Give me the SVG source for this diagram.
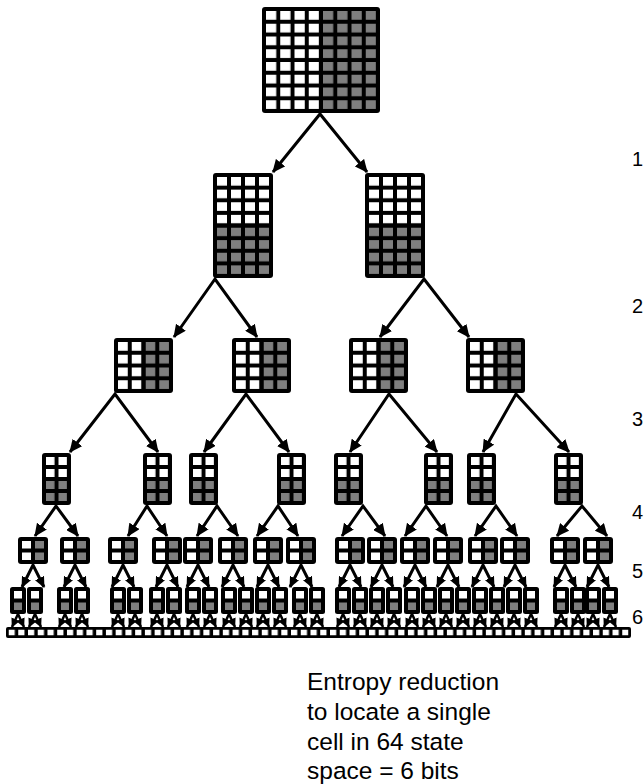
<svg xmlns="http://www.w3.org/2000/svg" width="644" height="784" viewBox="0 0 644 784">
<style>
.c{fill:none;stroke:#000;stroke-width:3;marker-start:url(#a1);marker-end:url(#a1)}
.c2{fill:none;stroke:#000;stroke-width:3;marker-start:url(#a2);marker-end:url(#a2)}
.c3{fill:none;stroke:#000;stroke-width:2.5;marker-start:url(#a3);marker-end:url(#a3)}
.w{fill:#fff}
.g{fill:#7f7f7f}
.lab{font-family:"Liberation Sans",Arial,sans-serif;font-size:20px;fill:#000}
.t{font-family:"Liberation Sans",Arial,sans-serif;font-size:24.5px;fill:#000}
</style>
<defs>
<marker id="a1" viewBox="0 0 13 12" refX="12" refY="6" markerWidth="13" markerHeight="12" markerUnits="userSpaceOnUse" orient="auto-start-reverse"><path d="M0,0 L13,6 L0,12 z"/></marker>
<marker id="a2" viewBox="0 0 11 10" refX="10" refY="5" markerWidth="11" markerHeight="10" markerUnits="userSpaceOnUse" orient="auto-start-reverse"><path d="M0,0 L11,5 L0,10 z"/></marker>
<marker id="a3" viewBox="0 0 9 9" refX="8.5" refY="4.5" markerWidth="9" markerHeight="9" markerUnits="userSpaceOnUse" orient="auto-start-reverse"><path d="M0,0 L9,4.5 L0,9 z"/></marker>
<pattern id="p0w" patternUnits="userSpaceOnUse" x="4" y="4" width="14.25" height="12.75"><rect width="10.25" height="8.75" class="w"/></pattern>
<pattern id="p0g" patternUnits="userSpaceOnUse" x="4" y="4" width="14.25" height="12.75"><rect width="10.25" height="8.75" class="g"/></pattern>
<pattern id="p1w" patternUnits="userSpaceOnUse" x="4" y="4" width="14" height="12.625"><rect width="10" height="8.625" class="w"/></pattern>
<pattern id="p1g" patternUnits="userSpaceOnUse" x="4" y="4" width="14" height="12.625"><rect width="10" height="8.625" class="g"/></pattern>
<pattern id="p2w" patternUnits="userSpaceOnUse" x="4" y="4" width="13.75" height="12.75"><rect width="9.75" height="8.75" class="w"/></pattern>
<pattern id="p2g" patternUnits="userSpaceOnUse" x="4" y="4" width="13.75" height="12.75"><rect width="9.75" height="8.75" class="g"/></pattern>
<pattern id="p3w" patternUnits="userSpaceOnUse" x="4" y="4" width="12.5" height="12"><rect width="8.5" height="8" class="w"/></pattern>
<pattern id="p3g" patternUnits="userSpaceOnUse" x="4" y="4" width="12.5" height="12"><rect width="8.5" height="8" class="g"/></pattern>
<pattern id="pb" patternUnits="userSpaceOnUse" x="8.5" y="629.5" width="9.742" height="11"><rect width="6.24" height="6" class="w"/></pattern>
<g id="t0"><rect width="118" height="106" rx="3"/><rect x="4" y="4" width="53" height="98" fill="url(#p0w)"/><rect x="61" y="4" width="53" height="98" fill="url(#p0g)"/></g>
<g id="t1"><rect width="60" height="105" rx="3"/><rect x="4" y="4" width="52" height="46.5" fill="url(#p1w)"/><rect x="4" y="54.5" width="52" height="46.5" fill="url(#p1g)"/></g>
<g id="t2"><rect width="59" height="55" rx="3"/><rect x="4" y="4" width="23.5" height="47" fill="url(#p2w)"/><rect x="31.5" y="4" width="23.5" height="47" fill="url(#p2g)"/></g>
<g id="t3"><rect width="29" height="52" rx="3"/><rect x="4" y="4" width="21" height="20" fill="url(#p3w)"/><rect x="4" y="28" width="21" height="20" fill="url(#p3g)"/></g>
<g id="t4"><rect width="30" height="27" rx="3"/><rect x="4" y="4" width="9" height="7.5" class="w"/><rect x="4" y="15.5" width="9" height="7.5" class="w"/><rect x="17" y="4" width="9" height="7.5" class="g"/><rect x="17" y="15.5" width="9" height="7.5" class="g"/></g>
<g id="t5"><rect width="16" height="27" rx="2.5"/><rect x="4" y="4" width="8" height="7.5" class="w"/><rect x="4" y="15.5" width="8" height="7.5" class="g"/></g>
</defs>
<rect width="644" height="784" fill="#fff"/>
<g id="connectors">
<path class="c" d="M273,172 L320,114 L367,172"/>
<path class="c" d="M174,337 L215,279 L257,337"/>
<path class="c" d="M380,337 L424,279 L469,337"/>
<path class="c" d="M70,452 L115,394 L158,452"/>
<path class="c" d="M204,452 L246,394 L289,452"/>
<path class="c" d="M350,452 L389,394 L437,452"/>
<path class="c" d="M483,452 L516,394 L569,452"/>
<path class="c" d="M35,536 L56,506 L78,536"/>
<path class="c" d="M128,536 L147,506 L167,536"/>
<path class="c" d="M197,536 L217,506 L238,536"/>
<path class="c" d="M257,536 L278,506 L298,536"/>
<path class="c" d="M342,536 L363,506 L385,536"/>
<path class="c" d="M405,536 L426,506 L447,536"/>
<path class="c" d="M475,536 L496,506 L517,536"/>
<path class="c" d="M557,536 L582,506 L607,536"/>
<path class="c2" d="M22,587 L33,565 L44,587"/>
<path class="c2" d="M64,587 L75,565 L86,587"/>
<path class="c2" d="M112,587 L123,565 L134,587"/>
<path class="c2" d="M156,587 L167,565 L178,587"/>
<path class="c2" d="M187,587 L198,565 L209,587"/>
<path class="c2" d="M222,587 L233,565 L244,587"/>
<path class="c2" d="M257,587 L268,565 L279,587"/>
<path class="c2" d="M290,587 L301,565 L312,587"/>
<path class="c2" d="M339,587 L350,565 L361,587"/>
<path class="c2" d="M371,587 L382,565 L393,587"/>
<path class="c2" d="M404,587 L415,565 L426,587"/>
<path class="c2" d="M437,587 L448,565 L459,587"/>
<path class="c2" d="M472,587 L483,565 L494,587"/>
<path class="c2" d="M504,587 L515,565 L526,587"/>
<path class="c2" d="M554,587 L565,565 L576,587"/>
<path class="c2" d="M587,587 L598,565 L609,587"/>
<path class="c3" d="M12,627 L18,614 L24,627"/>
<path class="c3" d="M29,627 L35,614 L41,627"/>
<path class="c3" d="M59,627 L65,614 L71,627"/>
<path class="c3" d="M76,627 L82,614 L88,627"/>
<path class="c3" d="M112,627 L118,614 L124,627"/>
<path class="c3" d="M129,627 L135,614 L141,627"/>
<path class="c3" d="M151,627 L157,614 L163,627"/>
<path class="c3" d="M168,627 L174,614 L180,627"/>
<path class="c3" d="M187,627 L193,614 L199,627"/>
<path class="c3" d="M204,627 L210,614 L216,627"/>
<path class="c3" d="M223,627 L229,614 L235,627"/>
<path class="c3" d="M240,627 L246,614 L252,627"/>
<path class="c3" d="M257,627 L263,614 L269,627"/>
<path class="c3" d="M274,627 L280,614 L286,627"/>
<path class="c3" d="M294,627 L300,614 L306,627"/>
<path class="c3" d="M311,627 L317,614 L323,627"/>
<path class="c3" d="M337,627 L343,614 L349,627"/>
<path class="c3" d="M354,627 L360,614 L366,627"/>
<path class="c3" d="M371,627 L377,614 L383,627"/>
<path class="c3" d="M388,627 L394,614 L400,627"/>
<path class="c3" d="M406,627 L412,614 L418,627"/>
<path class="c3" d="M423,627 L429,614 L435,627"/>
<path class="c3" d="M440,627 L446,614 L452,627"/>
<path class="c3" d="M457,627 L463,614 L469,627"/>
<path class="c3" d="M474,627 L480,614 L486,627"/>
<path class="c3" d="M491,627 L497,614 L503,627"/>
<path class="c3" d="M508,627 L514,614 L520,627"/>
<path class="c3" d="M525,627 L531,614 L537,627"/>
<path class="c3" d="M555,627 L561,614 L567,627"/>
<path class="c3" d="M572,627 L578,614 L584,627"/>
<path class="c3" d="M587,627 L593,614 L599,627"/>
<path class="c3" d="M604,627 L610,614 L616,627"/>
</g>
<g id="n0"><use href="#t0" x="262" y="7"/></g>
<g id="n1a"><use href="#t1" x="213" y="173"/></g>
<g id="n1b"><use href="#t1" x="365" y="173"/></g>
<g id="n2a"><use href="#t2" x="114" y="338"/></g>
<g id="n2b"><use href="#t2" x="232" y="338"/></g>
<g id="n2c"><use href="#t2" x="349" y="338"/></g>
<g id="n2d"><use href="#t2" x="466" y="338"/></g>
<g id="n3a"><use href="#t3" x="42" y="453"/></g>
<g id="n3b"><use href="#t3" x="143" y="453"/></g>
<g id="n3c"><use href="#t3" x="189" y="453"/></g>
<g id="n3d"><use href="#t3" x="277" y="453"/></g>
<g id="n3e"><use href="#t3" x="334" y="453"/></g>
<g id="n3f"><use href="#t3" x="424" y="453"/></g>
<g id="n3g"><use href="#t3" x="467" y="453"/></g>
<g id="n3h"><use href="#t3" x="554" y="453"/></g>
<g id="n4-1"><use href="#t4" x="18" y="537"/></g>
<g id="n4-2"><use href="#t4" x="60" y="537"/></g>
<g id="n4-3"><use href="#t4" x="108" y="537"/></g>
<g id="n4-4"><use href="#t4" x="152" y="537"/></g>
<g id="n4-5"><use href="#t4" x="183" y="537"/></g>
<g id="n4-6"><use href="#t4" x="218" y="537"/></g>
<g id="n4-7"><use href="#t4" x="253" y="537"/></g>
<g id="n4-8"><use href="#t4" x="286" y="537"/></g>
<g id="n4-9"><use href="#t4" x="335" y="537"/></g>
<g id="n4-10"><use href="#t4" x="367" y="537"/></g>
<g id="n4-11"><use href="#t4" x="400" y="537"/></g>
<g id="n4-12"><use href="#t4" x="433" y="537"/></g>
<g id="n4-13"><use href="#t4" x="468" y="537"/></g>
<g id="n4-14"><use href="#t4" x="500" y="537"/></g>
<g id="n4-15"><use href="#t4" x="550" y="537"/></g>
<g id="n4-16"><use href="#t4" x="583" y="537"/></g>
<g id="n5-1"><use href="#t5" x="10" y="587"/></g>
<g id="n5-2"><use href="#t5" x="27" y="587"/></g>
<g id="n5-3"><use href="#t5" x="57" y="587"/></g>
<g id="n5-4"><use href="#t5" x="74" y="587"/></g>
<g id="n5-5"><use href="#t5" x="110" y="587"/></g>
<g id="n5-6"><use href="#t5" x="127" y="587"/></g>
<g id="n5-7"><use href="#t5" x="149" y="587"/></g>
<g id="n5-8"><use href="#t5" x="166" y="587"/></g>
<g id="n5-9"><use href="#t5" x="185" y="587"/></g>
<g id="n5-10"><use href="#t5" x="202" y="587"/></g>
<g id="n5-11"><use href="#t5" x="221" y="587"/></g>
<g id="n5-12"><use href="#t5" x="238" y="587"/></g>
<g id="n5-13"><use href="#t5" x="255" y="587"/></g>
<g id="n5-14"><use href="#t5" x="272" y="587"/></g>
<g id="n5-15"><use href="#t5" x="292" y="587"/></g>
<g id="n5-16"><use href="#t5" x="309" y="587"/></g>
<g id="n5-17"><use href="#t5" x="335" y="587"/></g>
<g id="n5-18"><use href="#t5" x="352" y="587"/></g>
<g id="n5-19"><use href="#t5" x="369" y="587"/></g>
<g id="n5-20"><use href="#t5" x="386" y="587"/></g>
<g id="n5-21"><use href="#t5" x="404" y="587"/></g>
<g id="n5-22"><use href="#t5" x="421" y="587"/></g>
<g id="n5-23"><use href="#t5" x="438" y="587"/></g>
<g id="n5-24"><use href="#t5" x="455" y="587"/></g>
<g id="n5-25"><use href="#t5" x="472" y="587"/></g>
<g id="n5-26"><use href="#t5" x="489" y="587"/></g>
<g id="n5-27"><use href="#t5" x="506" y="587"/></g>
<g id="n5-28"><use href="#t5" x="523" y="587"/></g>
<g id="n5-29"><use href="#t5" x="553" y="587"/></g>
<g id="n5-30"><use href="#t5" x="570" y="587"/></g>
<g id="n5-31"><use href="#t5" x="585" y="587"/></g>
<g id="n5-32"><use href="#t5" x="602" y="587"/></g>
<g id="n6"><rect x="6" y="627" width="625" height="11" rx="2"/><rect x="8.5" y="629.5" width="620" height="6" fill="url(#pb)"/></g>
<g id="labels">
<text class="lab" x="632" y="166">1</text>
<text class="lab" x="632" y="313">2</text>
<text class="lab" x="632" y="426">3</text>
<text class="lab" x="632" y="519">4</text>
<text class="lab" x="632" y="578">5</text>
<text class="lab" x="632" y="624">6</text>
</g>
<g id="caption">
<text class="t" x="307" y="690">Entropy reduction</text>
<text class="t" x="307" y="720">to locate a single</text>
<text class="t" x="307" y="750">cell in 64 state</text>
<text class="t" x="307" y="779">space = 6 bits</text>
</g>
</svg>
